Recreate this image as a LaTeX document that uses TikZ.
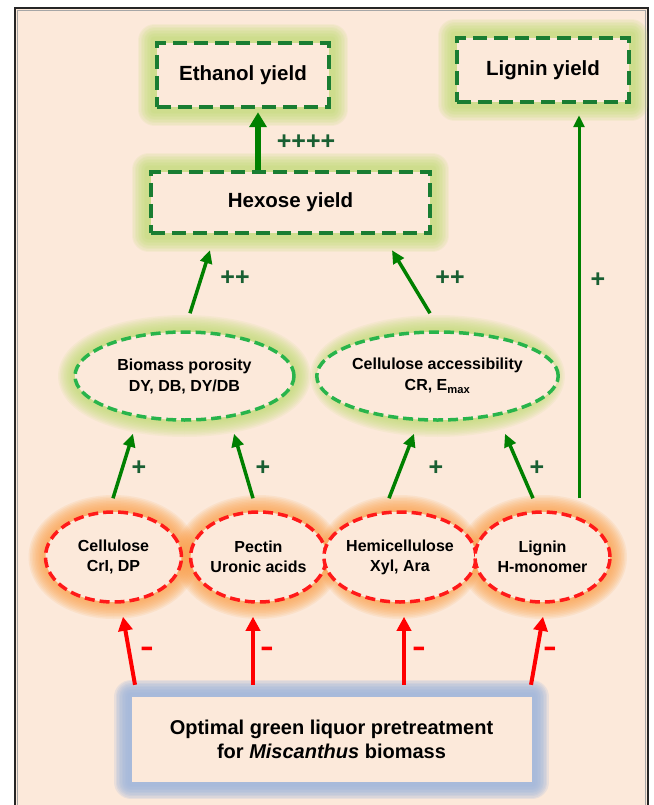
\documentclass[tikz,border=0pt]{standalone}
\usepackage{fontspec}
\setmainfont{Liberation Sans}
\usetikzlibrary{shapes.geometric,arrows.meta,calc}
\pgfdeclarelayer{bg}
\pgfdeclarelayer{glow}
\pgfsetlayers{bg,glow,main}
\definecolor{peach}{RGB}{252,233,218}
\definecolor{boxgreen}{RGB}{25,125,50}
\definecolor{ellgreen}{RGB}{40,180,75}
\definecolor{arrgreen}{RGB}{0,128,0}
\definecolor{lblgreen}{RGB}{25,95,50}
\definecolor{ellred}{RGB}{255,25,25}
\definecolor{glowG}{RGB}{190,220,110}
\definecolor{glowO}{RGB}{250,160,75}
\definecolor{glowB}{RGB}{160,182,222}
\newcommand{\mkglow}[3]{%
  \foreach \w in {34,31,28,25,22,19,16,13,10,7}{%
    \draw[draw=#1, line width=\w pt, opacity=#2, line join=round] #3;}}
\tikzset{
  gbox/.style={rectangle, draw=boxgreen, line width=4.5pt, dash pattern=on 14pt off 7pt,
    fill=peach, inner sep=0pt, align=center, font=\fontsize{20.5}{24}\selectfont\bfseries},
  gell/.style={ellipse, draw=ellgreen, line width=3.5pt, dash pattern=on 10pt off 5pt,
    fill=peach, inner sep=0pt, align=center, font=\fontsize{16}{21}\selectfont\bfseries},
  rell/.style={ellipse, draw=ellred, line width=3.5pt, dash pattern=on 10pt off 5pt,
    fill=peach, inner sep=0pt, align=center, font=\fontsize{16}{20}\selectfont\bfseries},
  optbox/.style={rectangle, fill=peach, inner sep=0pt, align=center,
    font=\fontsize{20}{23.5}\selectfont\bfseries},
  garrow/.style={draw=arrgreen, line width=3.5pt, -{Triangle[length=13pt,width=12pt]}},
  thickarrow/.style={draw=arrgreen, line width=6.5pt, -{Triangle[length=15pt,width=17pt]}},
  larrow/.style={draw=arrgreen, line width=3pt, -{Triangle[length=12pt,width=11pt]}},
  rarrow/.style={draw=red, line width=4pt, -{Triangle[length=14pt,width=14pt]}},
  plbl/.style={text=lblgreen, font=\fontsize{25}{25}\selectfont\bfseries, inner sep=0pt},
  mlbl/.style={text=red, font=\fontsize{21}{21}\selectfont\bfseries, inner sep=0pt},
}
\begin{document}
\begin{tikzpicture}[x=1pt,y=-1pt]
\useasboundingbox (0,0) rectangle (653,805);
\clip (0,0) rectangle (653,805);
\begin{pgfonlayer}{bg}
  \fill[white] (0,0) rectangle (653,805);
  \fill[peach] (15,8) rectangle (648,815);
  \draw[line width=1.5pt, black!35] (17.5,815) -- (17.5,10.5) -- (645.5,10.5) -- (645.5,815);
  \draw[line width=2.5pt, black!85] (15,815) -- (15,8) -- (648,8) -- (648,815);
\end{pgfonlayer}

% nodes
\node[gbox, minimum width=172pt, minimum height=64pt] (eth) at (243,75) {Ethanol yield};
\node[gbox, minimum width=172pt, minimum height=64pt] (ligy) at (543,70) {Lignin yield};
\node[gbox, minimum width=279pt, minimum height=61pt] (hex) at (290.5,202.5) {Hexose yield};
\node[gell, minimum width=219pt, minimum height=88pt] (bio) at (184.5,376) {Biomass porosity\\DY, DB, DY/DB};
\node[gell, minimum width=221pt, minimum height=88pt] (acc) at (437.5,376) {Cellulose accessibility\\CR, E\textsubscript{max}};
\node[rell, minimum width=136pt, minimum height=90pt] (cel) at (113.5,557) {Cellulose\\CrI, DP};
\node[rell, minimum width=133pt, minimum height=90pt] (pec) at (258.5,557) {Pectin\\Uronic acids};
\node[rell, minimum width=130pt, minimum height=90pt] (hem) at (400,557) {Hemicellulose\\Xyl, Ara};
\node[rell, minimum width=135pt, minimum height=90pt] (lig) at (542.5,557) {Lignin\\H-monomer};
\node[optbox, minimum width=400pt, minimum height=85pt] (opt) at (331.5,739.5) {Optimal green liquor pretreatment\\for \textit{Miscanthus} biomass};

% glows
\begin{pgfonlayer}{glow}
  \mkglow{glowG}{0.11}{(eth.south west) rectangle (eth.north east)}
  \mkglow{glowG}{0.11}{(ligy.south west) rectangle (ligy.north east)}
  \mkglow{glowG}{0.11}{(hex.south west) rectangle (hex.north east)}
  \mkglow{glowG}{0.11}{(bio.center) ellipse [x radius=109.5pt, y radius=44pt]}
  \mkglow{glowG}{0.11}{(acc.center) ellipse [x radius=110.5pt, y radius=44pt]}
  \mkglow{glowO}{0.12}{(cel.center) ellipse [x radius=68pt, y radius=45pt]}
  \mkglow{glowO}{0.12}{(pec.center) ellipse [x radius=66.5pt, y radius=45pt]}
  \mkglow{glowO}{0.12}{(hem.center) ellipse [x radius=65pt, y radius=45pt]}
  \mkglow{glowO}{0.12}{(lig.center) ellipse [x radius=67.5pt, y radius=45pt]}
  \mkglow{glowB}{0.2}{(opt.south west) rectangle (opt.north east)}
\end{pgfonlayer}

% connectors
\draw[thickarrow] ($(hex.north)+(-32.5,0)$) -- ($(eth.south)+(15,3)$);
\draw[larrow] ($(lig.north)+(36.5,-12)$) -- ($(ligy.south)+(36,11)$);
\draw[garrow] ($(bio.north)+(5.5,-17)$) -- ($(hex.south)+(-80.5,15)$);
\draw[garrow] ($(acc.north)+(-7.5,-17)$) -- ($(hex.south)+(101.5,15)$);
\draw[garrow] ($(cel.north)+(-0.5,-12)$) -- ($(bio.south)+(-51.5,12)$);
\draw[garrow] ($(pec.north)+(-5.5,-12)$) -- ($(bio.south)+(49.5,12)$);
\draw[garrow] ($(hem.north)+(-11,-12)$) -- ($(acc.south)+(-23.5,12)$);
\draw[garrow] ($(lig.north)+(-9.5,-12)$) -- ($(acc.south)+(67.5,12)$);
\draw[rarrow] ($(opt.north)+(-196.5,-12)$) -- ($(cel.south)+(9.5,13)$);
\draw[rarrow] ($(opt.north)+(-78.5,-12)$) -- ($(pec.south)+(-5.5,13)$);
\draw[rarrow] ($(opt.north)+(72.5,-12)$) -- ($(hem.south)+(4,13)$);
\draw[rarrow] ($(opt.north)+(199.5,-12)$) -- ($(lig.south)+(0.5,13)$);

% labels
\node[plbl] (l1) at (306,142) {++++};
\node[plbl] (l2) at (235,278) {++};
\node[plbl] (l3) at (450,278) {++};
\node[plbl] (l4) at (598,280) {+};
\node[plbl] (l5) at (139,468) {+};
\node[plbl] (l6) at (263,468) {+};
\node[plbl] (l7) at (436,468) {+};
\node[plbl] (l8) at (537,468) {+};
\node[mlbl] (m1) at (147,653) {\scalebox{1}[1.7]{–}};
\node[mlbl] (m2) at (267,653) {\scalebox{1}[1.7]{–}};
\node[mlbl] (m3) at (419,653) {\scalebox{1}[1.7]{–}};
\node[mlbl] (m4) at (550,653) {\scalebox{1}[1.7]{–}};
\end{tikzpicture}
\end{document}
